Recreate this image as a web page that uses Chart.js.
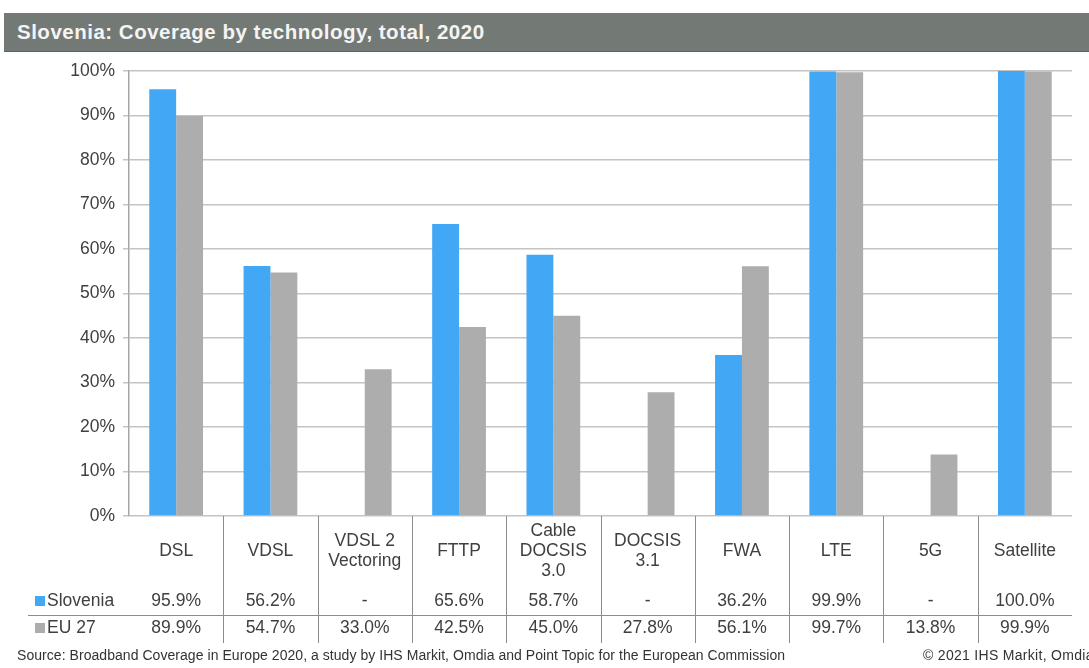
<!DOCTYPE html>
<html>
<head>
<meta charset="utf-8">
<script src="https://cdn.jsdelivr.net/npm/chart.js@4.4.1/dist/chart.umd.min.js"></script>
<style>
  html, body { margin: 0; padding: 0; background: #fff; }
  body { width: 1089px; height: 668px; position: relative; overflow: hidden; font-family: "Liberation Sans", Arial, sans-serif; }
  .title-bar { position: absolute; left: 4px; top: 13px; width: 1085px; height: 38px; background: #737a76; border-bottom: 1px solid #5f6561; }
  .title-bar span { position: absolute; left: 13px; top: 7px; color: #f4f4f4; font-weight: bold; font-size: 20.5px; letter-spacing: 0.5px; white-space: nowrap; }
  .chart-wrap { position: absolute; left: 0; top: 0; width: 1089px; height: 668px; }
  .source { position: absolute; left: 17px; top: 647px; font-size: 14px; color: #333; white-space: nowrap; letter-spacing: 0.05px; }
  .copy { position: absolute; left: 923px; top: 647px; font-size: 14px; color: #333; white-space: nowrap; letter-spacing: 0.3px; }
</style>
</head>
<body>
<div class="chart-wrap"><canvas id="chart" width="1089" height="668"></canvas></div>
<div class="title-bar"><span>Slovenia: Coverage by technology, total, 2020</span></div>
<div class="source">Source: Broadband Coverage in Europe 2020, a study by IHS Markit, Omdia and Point Topic for the European Commission</div>
<div class="copy">© 2021 IHS Markit, Omdia</div>
<script>
// categories (multi-line labels as they appear in the table)
const categories = [
    ['DSL'], ['VDSL'], ['VDSL 2', 'Vectoring'], ['FTTP'], ['Cable', 'DOCSIS', '3.0'],
    ['DOCSIS', '3.1'], ['FWA'], ['LTE'], ['5G'], ['Satellite']
];
const seriesNames = ['Slovenia', 'EU 27'];
const slovenia = [95.9, 56.2, null, 65.6, 58.7, null, 36.2, 99.9, null, 100.0];
const eu27 = [89.9, 54.7, 33.0, 42.5, 45.0, 27.8, 56.1, 99.7, 13.8, 99.9];
const yTicks = [0, 10, 20, 30, 40, 50, 60, 70, 80, 90, 100];

const BLUE = '#42a7f5';
const GREY = '#adadad';
const TEXT = '#404040';
const FONT = '"Liberation Sans", Arial, sans-serif';

const fmt = v => (v === null ? '-' : v.toFixed(1) + '%');

// draws the data table under the plot, aligned to the x scale
const dataTable = {
    id: 'dataTable',
    afterDraw(chart) {
        const ctx = chart.ctx;
        const area = chart.chartArea;
        const xs = chart.scales.x;
        const n = categories.length;
        const w = (area.right - area.left) / n;
        const top = area.bottom;
        const bottom = top + 127;
        const rowY = [top + 85, top + 112];
        const lineY = top + 99;

        ctx.save();
        ctx.strokeStyle = '#8c8c8c';
        ctx.lineWidth = 1;
        for (let i = 1; i < n; i++) {
            const x = Math.round(area.left + i * w) + 0.5;
            ctx.beginPath();
            ctx.moveTo(x, top);
            ctx.lineTo(x, bottom);
            ctx.stroke();
        }
        ctx.beginPath();
        ctx.moveTo(28, Math.round(lineY) + 0.5);
        ctx.lineTo(area.right, Math.round(lineY) + 0.5);
        ctx.stroke();

        ctx.fillStyle = TEXT;
        ctx.font = '17.5px ' + FONT;
        ctx.textAlign = 'center';
        ctx.textBaseline = 'middle';
        categories.forEach((lines, i) => {
            const cx = xs.getPixelForValue(i);
            const lh = 20;
            const y0 = top + 35 - (lines.length - 1) * lh / 2;
            lines.forEach((t, k) => ctx.fillText(t, cx, y0 + k * lh));
            ctx.fillText(fmt(slovenia[i]), cx, rowY[0]);
            ctx.fillText(fmt(eu27[i]), cx, rowY[1]);
        });

        // legend keys in the row headers
        const colors = [BLUE, GREY];
        seriesNames.forEach((name, k) => {
            ctx.fillStyle = colors[k];
            ctx.fillRect(35, rowY[k] - 5, 10, 10);
            ctx.fillStyle = TEXT;
            ctx.textAlign = 'left';
            ctx.fillText(name, 47, rowY[k]);
        });
        ctx.restore();
    }
};

new Chart(document.getElementById('chart').getContext('2d'), {
    type: 'bar',
    data: {
        labels: categories,
        datasets: [
            { label: seriesNames[0], data: slovenia, backgroundColor: BLUE },
            { label: seriesNames[1], data: eu27, backgroundColor: GREY }
        ]
    },
    options: {
        responsive: false,
        animation: false,
        layout: { padding: { left: 59, top: 71, right: 17, bottom: 152 } },
        datasets: { bar: { categoryPercentage: 0.57, barPercentage: 1.0 } },
        plugins: { legend: { display: false }, tooltip: { enabled: false } },
        scales: {
            x: { display: false },
            y: {
                min: 0,
                max: 100,
                afterFit: s => { s.width = 70; },
                afterBuildTicks: s => { s.ticks = yTicks.map(v => ({ value: v })); },
                ticks: {
                    padding: 8,
                    color: TEXT,
                    font: { family: FONT, size: 17.5 },
                    callback: v => v + '%'
                },
                grid: { color: '#c4c4c4', lineWidth: 1.5, tickLength: 6 },
                border: { color: '#a6a6a6', width: 1.5 }
            }
        }
    },
    plugins: [dataTable]
});
</script>
</body>
</html>
